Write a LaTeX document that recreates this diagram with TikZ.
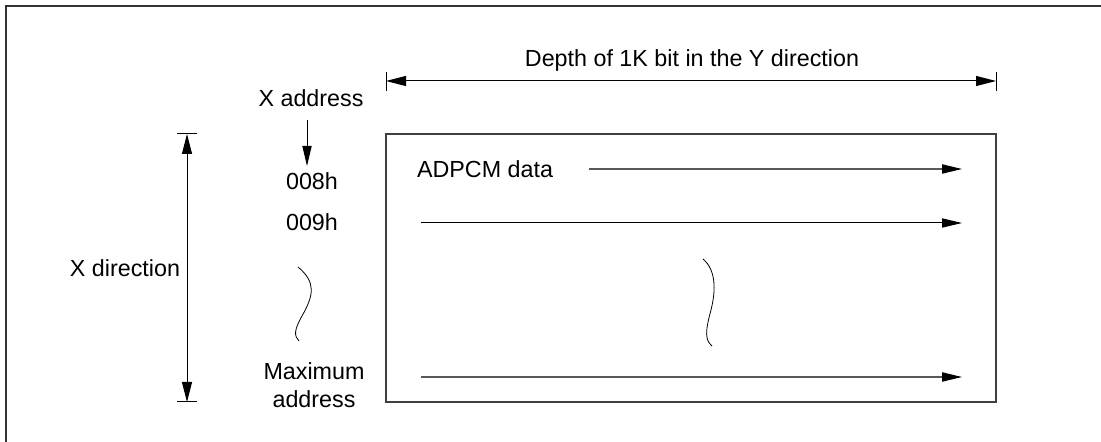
\documentclass[tikz,border=0pt]{standalone}
\usepackage{fontspec}
\setmainfont{Liberation Sans}
\usetikzlibrary{arrows.meta}

\begin{document}
\begin{tikzpicture}[
    x=0.5pt, y=-0.5pt,
    font=\fontsize{11.65}{14}\selectfont,
    lbl/.style={
        inner sep=0pt,
        align=center
    },
    frameline/.style={
        line width=1pt,
        draw=black!80
    },
    membox/.style={
        line width=0.7pt,
        draw=black!75
    },
    tick/.style={
        line width=0.5pt
    },
    dimline/.style={
        {Triangle[length=10pt,width=5pt]}-{Triangle[length=10pt,width=5pt]},
        line width=0.5pt
    },
    flow/.style={
        -{Triangle[length=10pt,width=4.6pt]},
        line width=0.5pt
    },
    rowflow/.style={
        -{Triangle[length=10pt,width=4.6pt,color=black]},
        line width=0.7pt,
        draw=black!65
    },
    wavy/.style={
        line width=0.4pt
    }
]
\useasboundingbox (0,0) rectangle (1101,442);

% Outer frame
\draw[frameline] (6,442) -- (6,6) -- (1101,6);

% Labels
\node[lbl] (depth) at (692,60) {Depth of 1K bit in the Y direction};
\node[lbl] (xaddr) at (311,98) {X address};
\node[lbl] (n008) at (312,181) {008h};
\node[lbl] (n009) at (312,222) {009h};
\node[lbl] (maxaddr) at (314,385) {Maximum\\address};
\node[lbl] (xdir) at (125,268) {X direction};
\node[lbl] (adpcm) at (485,169) {ADPCM data};

% Memory area
\coordinate (memnw) at (386,134);
\coordinate (memse) at (996,402);
\draw[membox] (memnw) rectangle (memse);

% Y direction depth
\coordinate (ytopl) at (386,72);
\coordinate (ybotl) at (386,91);
\coordinate (ytopr) at (996,72);
\coordinate (ybotr) at (996,91);
\coordinate (ydl) at (386,81);
\coordinate (ydr) at (996,81);
\draw[tick] (ytopl) -- (ybotl);
\draw[tick] (ytopr) -- (ybotr);
\draw[dimline] (ydl) -- (ydr);

% X direction extent
\coordinate (xtl) at (177,134);
\coordinate (xtr) at (197,134);
\coordinate (xbl) at (177,402);
\coordinate (xbr) at (197,402);
\coordinate (xdt) at (187,134);
\coordinate (xdb) at (187,402);
\draw[tick] (xtl) -- (xtr);
\draw[tick] (xbl) -- (xbr);
\draw[dimline] (xdt) -- (xdb);

% Address pointer
\coordinate (xa1) at (307,120);
\coordinate (xa2) at (307,166);
\draw[flow] (xa1) -- (xa2);

% Data rows
\coordinate (r1s) at (589,169);
\coordinate (r1e) at (962,169);
\coordinate (r2s) at (421,223);
\coordinate (r2e) at (962,223);
\coordinate (r3s) at (421,377);
\coordinate (r3e) at (962,377);
\draw[rowflow] (r1s) -- (r1e);
\draw[flow] (r2s) -- (r2e);
\draw[rowflow] (r3s) -- (r3e);

% Omission marks
\draw[wavy] (298,267) .. controls (316,282) and (314,295) .. (302,316)
    .. controls (294,330) and (294,336) .. (299,341);
\draw[wavy] (703,259) .. controls (716,270) and (716,290) .. (711,310)
    .. controls (705,332) and (705,340) .. (712,346);

\end{tikzpicture}
\end{document}
